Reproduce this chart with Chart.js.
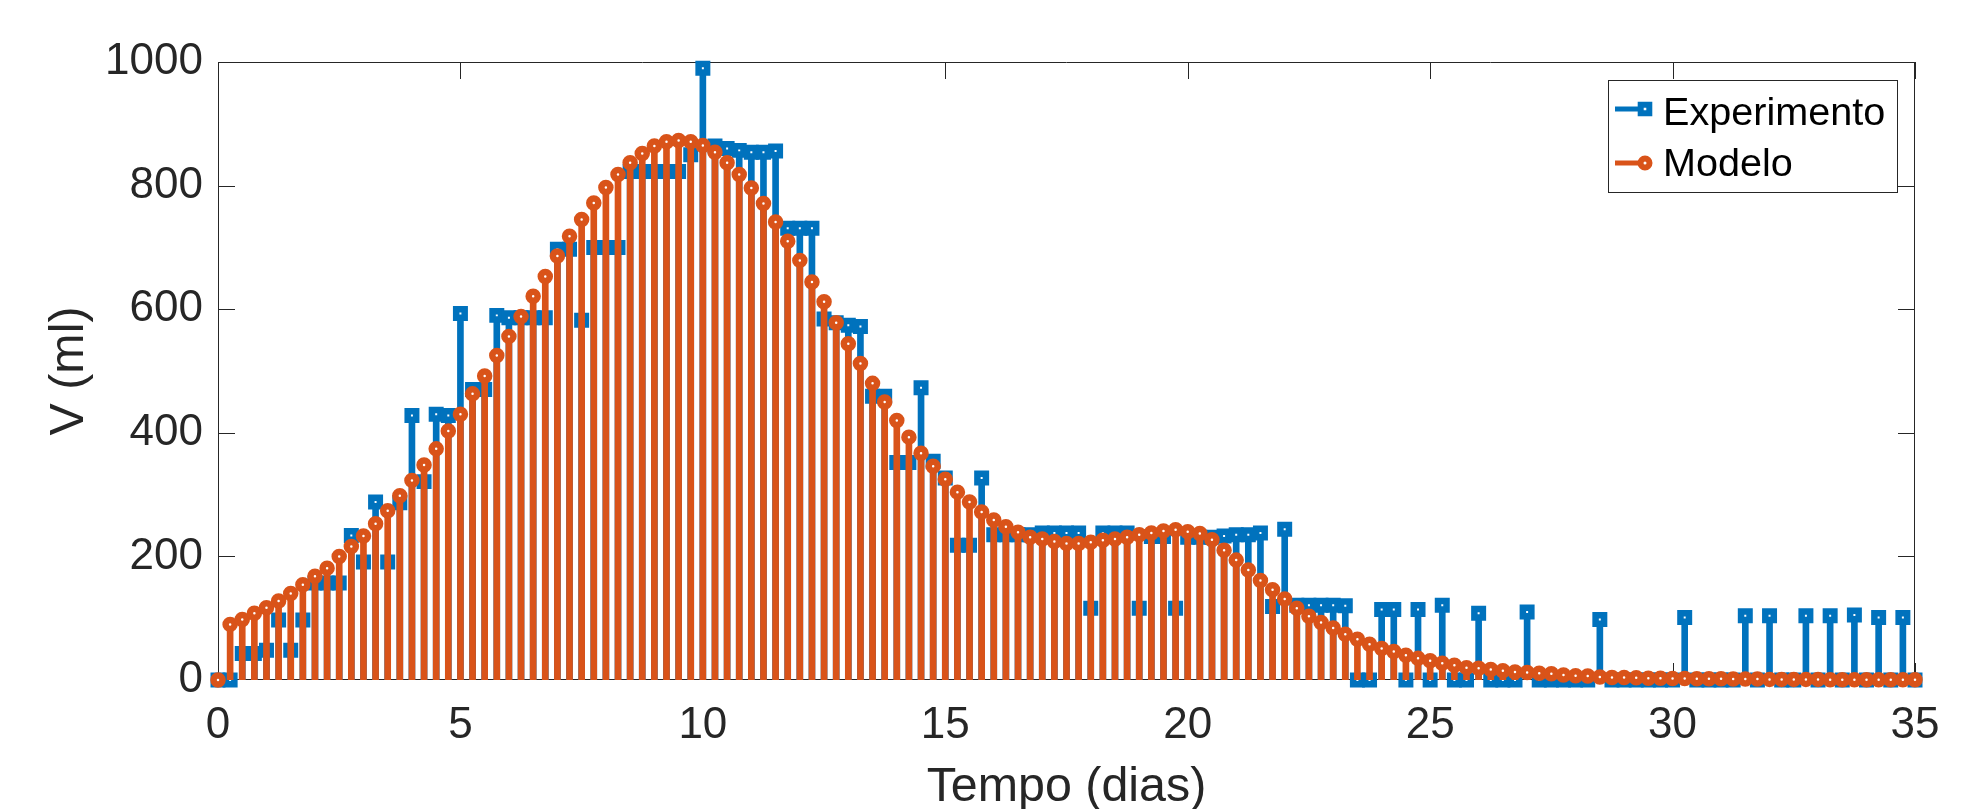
<!DOCTYPE html>
<html>
<head>
<meta charset="utf-8">
<script src="https://cdn.jsdelivr.net/npm/chart.js@4.4.0/dist/chart.umd.min.js"></script>
<style>
    html, body { margin: 0; padding: 0; background: #fff; }
    #contenedor { width: 1962px; height: 809px; }
</style>
</head>
<body>
<div id="contenedor"><canvas id="grafica" width="1962" height="809"></canvas></div>
<script>
// Tiempo de muestreo (dias), cada 6 horas
const tiempo = [
    0, 0.25, 0.5, 0.75, 1, 1.25, 1.5, 1.75, 2, 2.25, 2.5, 2.75, 3, 3.25, 3.5, 3.75,
    4, 4.25, 4.5, 4.75, 5, 5.25, 5.5, 5.75, 6, 6.25, 6.5, 6.75, 7, 7.25, 7.5, 7.75,
    8, 8.25, 8.5, 8.75, 9, 9.25, 9.5, 9.75, 10, 10.25, 10.5, 10.75, 11, 11.25, 11.5, 11.75,
    12, 12.25, 12.5, 12.75, 13, 13.25, 13.5, 13.75, 14, 14.25, 14.5, 14.75, 15, 15.25, 15.5, 15.75,
    16, 16.25, 16.5, 16.75, 17, 17.25, 17.5, 17.75, 18, 18.25, 18.5, 18.75, 19, 19.25, 19.5, 19.75,
    20, 20.25, 20.5, 20.75, 21, 21.25, 21.5, 21.75, 22, 22.25, 22.5, 22.75, 23, 23.25, 23.5, 23.75,
    24, 24.25, 24.5, 24.75, 25, 25.25, 25.5, 25.75, 26, 26.25, 26.5, 26.75, 27, 27.25, 27.5, 27.75,
    28, 28.25, 28.5, 28.75, 29, 29.25, 29.5, 29.75, 30, 30.25, 30.5, 30.75, 31, 31.25, 31.5, 31.75,
    32, 32.25, 32.5, 32.75, 33, 33.25, 33.5, 33.75, 34, 34.25, 34.5, 34.75, 35
]

// Volumen medido (ml)
const experimento = [
    0, 0, 43, 43, 48, 97, 48, 97, 157, 157,
    157, 234, 191, 288, 191, 287, 428, 321, 430, 428,
    593, 470, 470, 590, 586, 586, 586, 586, 697, 697,
    582, 700, 700, 700, 823, 823, 823, 823, 823, 850,
    990, 864, 860, 857, 854, 854, 856, 731, 731, 731,
    584, 578, 574, 572, 459, 459, 352, 352, 473, 354,
    327, 218, 218, 327, 235, 235, 235, 235, 238, 238,
    238, 238, 116, 238, 238, 238, 116, 232, 232, 116,
    231, 231, 231, 233, 235, 235, 238, 119, 244, 121,
    121, 121, 121, 120, 0, 0, 114, 114, 0, 114,
    0, 121, 0, 0, 108, 0, 0, 0, 110, 0,
    0, 0, 0, 0, 98, 0, 0, 0, 0, 0,
    0, 101, 0, 0, 0, 0, 104, 0, 104, 0,
    0, 104, 0, 104, 0, 105, 0, 101, 0, 101,
    0
]

// Volumen del modelo (ml)
const modelo = [
    0, 90, 98, 108, 117, 128, 140, 154, 168, 181,
    200, 216, 233, 253, 274, 298, 323, 348, 374, 403,
    430, 463, 492, 525, 556, 588, 621, 653, 686, 718,
    745, 772, 797, 818, 837, 852, 864, 871, 873, 871,
    865, 854, 837, 818, 796, 771, 741, 710, 679, 644,
    612, 578, 544, 512, 480, 450, 420, 393, 367, 346,
    325, 304, 288, 272, 259, 248, 239, 231, 228, 224,
    221, 221, 223, 226, 228, 231, 235, 238, 241, 243,
    240, 237, 227, 210, 194, 178, 161, 146, 131, 116,
    103, 93, 84, 74, 66, 58, 51, 46, 40, 35,
    31, 27, 24, 20, 19, 17, 15, 13, 12, 11,
    10, 8, 7, 6.5, 5, 4, 4, 3.5, 3, 3,
    2.5, 2.5, 2, 2, 2, 1.5, 1.5, 1.5, 1, 1,
    1, 1, 1, 0.5, 0.5, 0.5, 0.5, 0.5, 0.5, 0.5,
    0.5
]

const ticksX = [0, 5, 10, 15, 20, 25, 30, 35]
const ticksY = [0, 200, 400, 600, 800, 1000]

const azul = '#0072BD'
const naranja = '#D95319'
const colorEjes = '#262626'
const fuente = "'Liberation Sans', Arial, Helvetica, sans-serif"

const puntos = (valores) => tiempo.map((t, i) => ({ x: t, y: valores[i] }))

// Marco de los ejes con las marcas hacia adentro (estilo MATLAB)
const marco = {
    id: 'marco',
    beforeDatasetsDraw(chart) {
        const { ctx, chartArea: a, scales: { x, y } } = chart
        const largo = 17
        ctx.save()
        ctx.strokeStyle = colorEjes
        ctx.lineWidth = 1
        ctx.beginPath()
        ctx.rect(a.left + 0.5, a.top + 0.5, a.right - a.left - 1, a.bottom - a.top - 1)
        ticksX.forEach(t => {
            const px = Math.round(x.getPixelForValue(t)) + 0.5
            ctx.moveTo(px, a.bottom); ctx.lineTo(px, a.bottom - largo)
            ctx.moveTo(px, a.top); ctx.lineTo(px, a.top + largo)
        })
        ticksY.forEach(v => {
            const py = Math.round(y.getPixelForValue(v)) + 0.5
            ctx.moveTo(a.left, py); ctx.lineTo(a.left + largo, py)
            ctx.moveTo(a.right, py); ctx.lineTo(a.right - largo, py)
        })
        ctx.stroke()
        ctx.restore()
    }
}

// Leyenda dentro del area, arriba a la derecha
const leyenda = {
    id: 'leyenda',
    afterDraw(chart) {
        const { ctx, chartArea: a } = chart
        const ancho = 289, alto = 112
        const izq = a.right - 18 - ancho
        const arriba = a.top + 18
        ctx.save()
        ctx.fillStyle = '#fff'
        ctx.fillRect(izq, arriba, ancho, alto)
        ctx.strokeStyle = colorEjes
        ctx.lineWidth = 1
        ctx.strokeRect(Math.round(izq) + 0.5, Math.round(arriba) + 0.5, ancho, alto)

        const entradas = [
            { texto: 'Experimento', color: azul, forma: 'cuadro', y: 29, base: 45 },
            { texto: 'Modelo', color: naranja, forma: 'circulo', y: 83, base: 96 }
        ]
        entradas.forEach(e => {
            const yl = arriba + e.y
            ctx.strokeStyle = e.color
            ctx.lineWidth = 5
            ctx.beginPath()
            ctx.moveTo(izq + 7, yl)
            ctx.lineTo(izq + 37, yl)
            ctx.stroke()
            ctx.fillStyle = '#fff'
            ctx.lineWidth = 6
            ctx.beginPath()
            if (e.forma === 'cuadro') {
                ctx.rect(izq + 37 - 4.3, yl - 4.3, 8.6, 8.6)
            } else {
                ctx.arc(izq + 37, yl, 4.5, 0, Math.PI * 2)
            }
            ctx.fill()
            ctx.stroke()
            ctx.fillStyle = '#000'
            ctx.font = '39.6px ' + fuente
            ctx.textAlign = 'left'
            ctx.textBaseline = 'alphabetic'
            ctx.fillText(e.texto, izq + 55, arriba + e.base)
        })
        ctx.restore()
    }
}

Chart.defaults.font.family = fuente
Chart.defaults.color = colorEjes

new Chart(document.getElementById('grafica'), {
    type: 'bar',
    data: {
        datasets: [
            {
                type: 'bar',
                data: puntos(experimento),
                backgroundColor: azul,
                barThickness: 6,
                grouped: false,
                borderWidth: 0,
                order: 4
            },
            {
                type: 'line',
                label: 'Experimento',
                data: puntos(experimento),
                showLine: false,
                pointStyle: 'rect',
                pointRadius: 6,
                pointBorderWidth: 6.5,
                pointBorderColor: azul,
                pointBackgroundColor: '#fff',
                clip: false,
                order: 3
            },
            {
                type: 'bar',
                data: puntos(modelo),
                backgroundColor: naranja,
                barThickness: 6,
                grouped: false,
                borderWidth: 0,
                order: 2
            },
            {
                type: 'line',
                label: 'Modelo',
                data: puntos(modelo),
                showLine: false,
                pointStyle: 'circle',
                pointRadius: 4.5,
                pointBorderWidth: 6.5,
                pointBorderColor: naranja,
                pointBackgroundColor: '#fff',
                clip: false,
                order: 1
            }
        ]
    },
    options: {
        responsive: false,
        animation: false,
        events: [],
        layout: { padding: { left: 0, right: 47, top: 62, bottom: 0 } },
        plugins: {
            legend: { display: false },
            tooltip: { enabled: false }
        },
        scales: {
            x: {
                type: 'linear',
                min: 0,
                max: 35,
                offset: false,
                grid: { display: false, offset: false, drawTicks: false },
                border: { display: false },
                ticks: {
                    stepSize: 5,
                    padding: 19,
                    color: colorEjes,
                    font: { size: 44 },
                    maxRotation: 0,
                    callback: v => String(v)
                },
                title: {
                    display: true,
                    text: 'Tempo (dias)',
                    color: colorEjes,
                    font: { size: 48.4, lineHeight: 0.9 },
                    padding: { top: 0, bottom: 0 }
                },
                afterFit: (escala) => { escala.height = 129 }
            },
            y: {
                min: 0,
                max: 1000,
                grid: { display: false, drawTicks: false },
                border: { display: false },
                ticks: {
                    stepSize: 200,
                    padding: 15,
                    color: colorEjes,
                    font: { size: 44 },
                    callback: v => String(v)
                },
                title: {
                    display: true,
                    text: 'V (ml)',
                    color: colorEjes,
                    font: { size: 48.4, lineHeight: 0.9 },
                    padding: { top: 48, bottom: 0 }
                },
                afterFit: (escala) => { escala.width = 218 }
            }
        }
    },
    plugins: [marco, leyenda]
})
</script>
</body>
</html>
